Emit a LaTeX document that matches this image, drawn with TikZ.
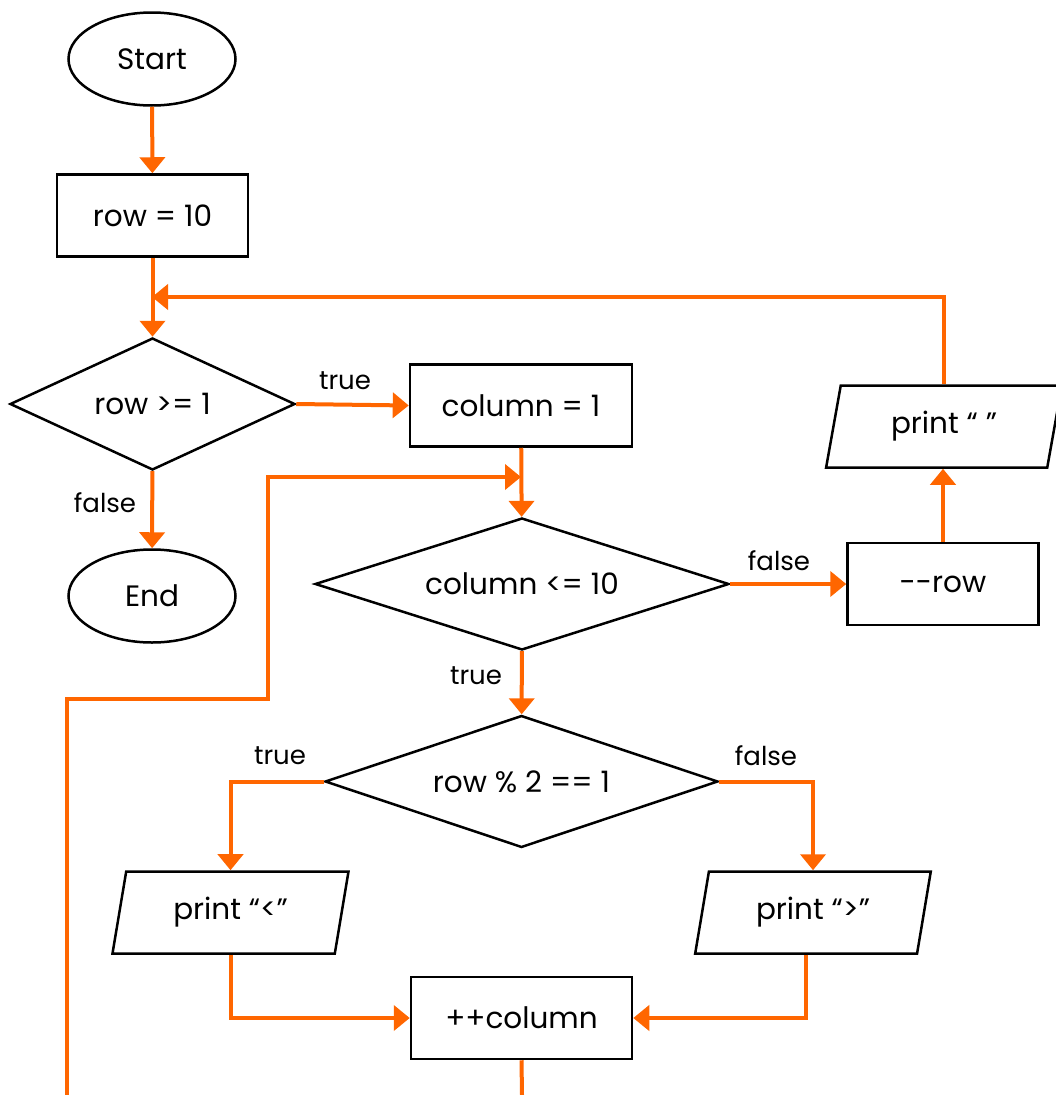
\documentclass[tikz,border=0pt]{standalone}
\usepackage{fontspec}
\setmainfont{Poppins}
\usetikzlibrary{shapes.geometric,arrows.meta,calc}
\definecolor{flow}{HTML}{FF6600}
\begin{document}
\begin{tikzpicture}[x=1pt,y=-1pt,
  every node/.style={font=\fontsize{29.5}{34}\selectfont, inner sep=0pt},
  box/.style={draw=black, line width=2.5pt, rectangle, minimum width=#1, minimum height=82},
  terminal/.style={draw=black, line width=2.5pt, ellipse, minimum width=167, minimum height=93},
  decision/.style={draw=black, line width=2.5pt, diamond, aspect=3, minimum width=#1, minimum height=132},
  io/.style={draw=black, line width=2.5pt, trapezium, trapezium left angle=76, trapezium right angle=104,
             trapezium stretches=true, minimum width=236, minimum height=82},
  link/.style={draw=flow, line width=4pt, -{Triangle[length=16pt,width=25pt]}},
  wire/.style={draw=flow, line width=4pt},
  lbl/.style={font=\fontsize{26}{30}\selectfont}
]
\useasboundingbox (0,0) rectangle (1056,1095);

% process steps
\node[terminal] (start) at (152,59) {Start};
\node[box=191] (rowinit) at (152.5,215.5) {row = 10};
\node[decision=285] (outer) at (152.5,404) {row >= 1};
\node[terminal] (stop) at (152,596) {End};
\node[box=222] (colinit) at (521,405.5) {column = 1};
\node[decision=414] (inner) at (522,584) {column <= 10};
\node[box=191] (decrow) at (943,584) {-{}-row};
\node[io] (newline) at (944,426.5) {print “ ”};
\node[decision=393] (parity) at (521.5,781.5) {row \% 2 == 1};
\node[io] (printlt) at (230.5,912.5) {print “<”};
\node[io] (printgt) at (813,912.5) {print “>”};
\node[box=221] (inccol) at (521.5,1018) {++column};

% junctions of the loops
\coordinate (outerjoin) at (152,297);
\coordinate (innerjoin) at (521,477);
\coordinate (backbottom) at (67,1095);
\coordinate (incout) at (522,1095);

% main flow
\draw[link] (start) -- (rowinit);
\draw[link] (rowinit) -- (outer);
\draw[link] (outer.east) -- (colinit.west);
\draw[link] (outer) -- (stop);
\draw[link] (colinit) -- (inner);
\draw[link] (inner) -- (decrow);
\draw[link] (decrow.north) -- (decrow.north |- newline.south);
\draw[link] (inner) -- (parity);
\draw[link] (parity.west) -| (printlt.north);
\draw[link] (parity.east) -| (printgt.north);
\draw[link] (printlt.south) |- (inccol.west);
\draw[link] (printgt.bottom side) |- (inccol.east);
\draw[wire] (inccol.south) -- (incout);

% loop back edges
\draw[link] (newline.north) |- (outerjoin);
\draw[link] (backbottom) -- (67,699) -- (268,699) -- (268,477) -- (innerjoin);

% branch labels
\node[lbl] (t1) at (345,381) {true};
\node[lbl] (f1) at (105,503) {false};
\node[lbl] (f2) at (779,561) {false};
\node[lbl] (t2) at (476,676) {true};
\node[lbl] (t3) at (280,756) {true};
\node[lbl] (f3) at (766,756) {false};
\end{tikzpicture}
\end{document}
